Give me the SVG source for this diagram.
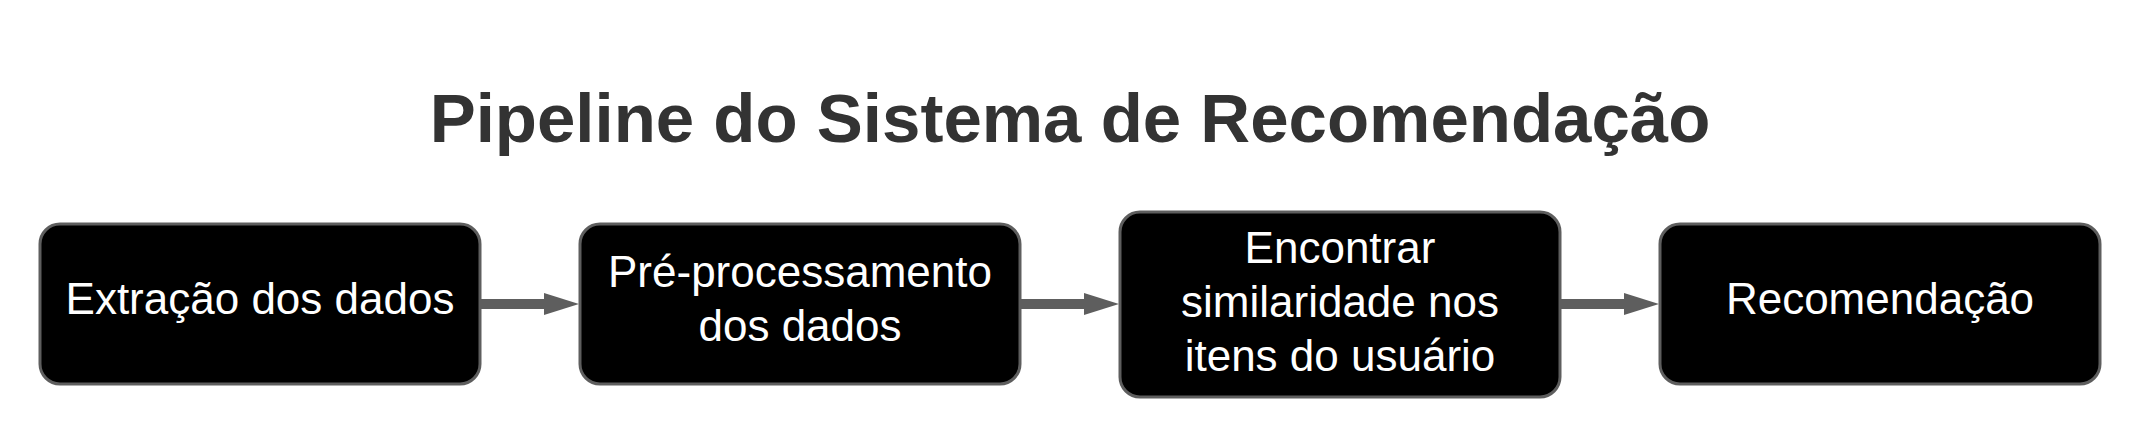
<svg xmlns="http://www.w3.org/2000/svg" width="2140" height="436" viewBox="0 0 2140 436">
  <defs>
    <style>
      .box { fill: #000000; stroke: #5e5e5e; stroke-width: 3; }
      .lbl { font-family: "Liberation Sans", Arial, sans-serif; font-size: 44px; fill: #ffffff; text-anchor: middle; }
      .title { font-family: "Liberation Sans", Arial, sans-serif; font-size: 69px; font-weight: bold; fill: #333333; text-anchor: middle; }
      .conn { stroke: #5e5e5e; stroke-width: 10; fill: none; }
    </style>
    <marker id="arrow" markerUnits="userSpaceOnUse" markerWidth="36" markerHeight="24" refX="0" refY="11" orient="auto">
      <polygon points="0,0 35,11 0,22" fill="#5e5e5e"/>
    </marker>
  </defs>
  <rect width="2140" height="436" fill="#ffffff"/>
  <text id="title" class="title" x="1070" y="142">Pipeline do Sistema de Recomendação</text>

  <g id="connectors">
    <path class="conn" d="M481,304 H544" marker-end="url(#arrow)"/>
    <path class="conn" d="M1021,304 H1084" marker-end="url(#arrow)"/>
    <path class="conn" d="M1561,304 H1624" marker-end="url(#arrow)"/>
  </g>

  <g id="node-extracao">
    <rect class="box" x="40" y="224" width="440" height="160" rx="20"/>
    <text class="lbl" x="260" y="314">Extração dos dados</text>
  </g>
  <g id="node-preprocessamento">
    <rect class="box" x="580" y="224" width="440" height="160" rx="20"/>
    <text class="lbl" x="800" y="287">Pré-processamento</text>
    <text class="lbl" x="800" y="341">dos dados</text>
  </g>
  <g id="node-similaridade">
    <rect class="box" x="1120" y="212" width="440" height="185" rx="20"/>
    <text class="lbl" x="1340" y="263">Encontrar</text>
    <text class="lbl" x="1340" y="317">similaridade nos</text>
    <text class="lbl" x="1340" y="371">itens do usuário</text>
  </g>
  <g id="node-recomendacao">
    <rect class="box" x="1660" y="224" width="440" height="160" rx="20"/>
    <text class="lbl" x="1880" y="314">Recomendação</text>
  </g>
</svg>
